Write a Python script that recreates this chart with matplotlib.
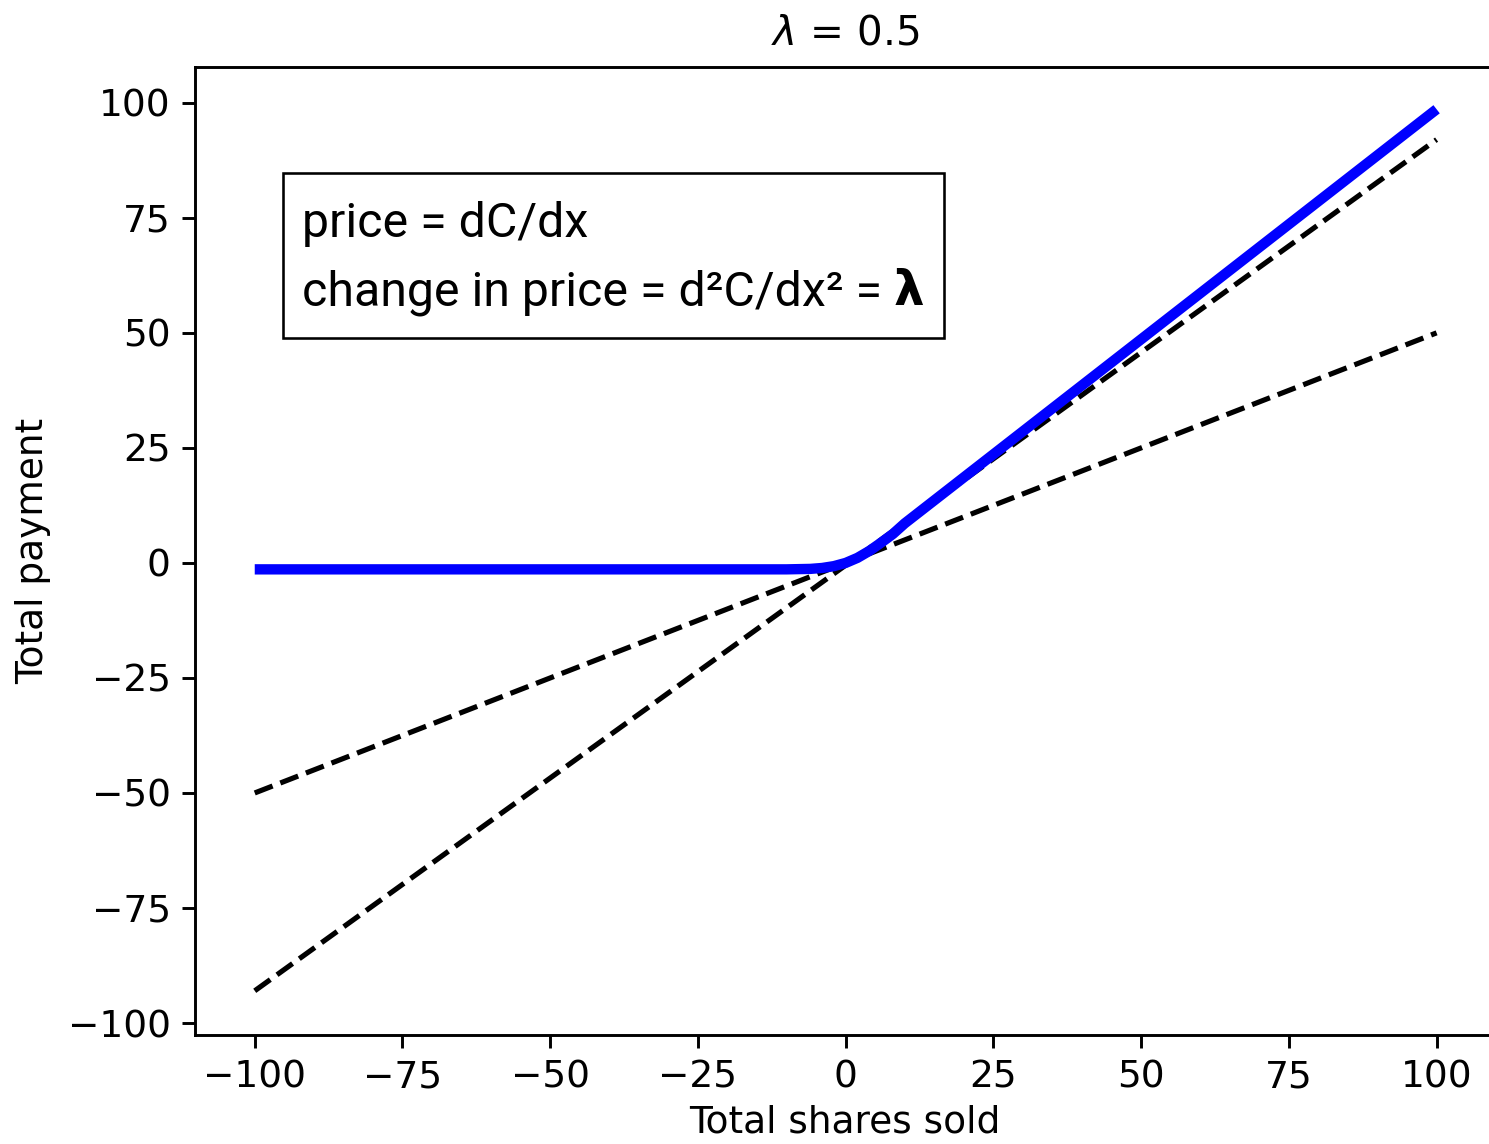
import matplotlib
matplotlib.use("Agg")
import matplotlib.pyplot as plt
from matplotlib.patches import Rectangle

# blue curve: total payment vs total shares sold
shares = [-100, -20, -10, -6, -4, -2, 0, 2, 4, 6, 8, 10, 15, 20, 30, 100]
payment = [-1.4, -1.4, -1.4, -1.3, -1.1, -0.7, 0.0, 1.1, 2.6, 4.4, 6.3, 8.6, 13.6, 18.6, 28.6, 98.6]

# dashed tangent lines (end points)
tan_x = [-100, 100]
tan_flat_y = [-50, 50]
tan_steep_y = [-93, 92]

ticks = [-100, -75, -50, -25, 0, 25, 50, 75, 100]
title = r"$\lambda$ = 0.5"
box_line1 = "price = dC/dx"
box_line2 = "change in price = d²C/dx² = "

DPI = 233
fig = plt.figure(figsize=(1489 / DPI, 1144 / DPI), dpi=DPI)
ax = fig.add_axes([0.131, 0.0953, 0.885, 0.8462])

ax.plot(tan_x, tan_flat_y, "k--", lw=1.6)
ax.plot(tan_x, tan_steep_y, "k--", lw=1.6)
ax.plot(shares, payment, color="b", lw=3.2, solid_capstyle="butt")

# right spine sits just past the picture edge, as in the cropped original
ax.set_xlim(-110.1, 112.9)
ax.set_ylim(-102.6, 107.8)
ax.set_xticks(ticks)
ax.set_yticks(ticks)
ax.tick_params(labelsize=11.6, length=4, width=0.9)
for s in ax.spines.values():
    s.set_linewidth(0.9)
ax.set_xlabel("Total shares sold", fontsize=11.6)
ax.xaxis.set_label_coords(0.493, -0.072)
ax.set_ylabel("Total payment", fontsize=11.6, labelpad=5)
ax.set_title(title, fontsize=12.5, pad=7, x=0.493)

# text box
fig.patches.append(Rectangle((283 / 1489, 1 - 338 / 1144), 661 / 1489, 165 / 1144,
                             transform=fig.transFigure, fill=False, edgecolor="black", lw=0.8))
fs = 14.9
fam = ["Roboto", "DejaVu Sans"]
fig.text(0.2028, 1 - 237 / 1144, box_line1, fontsize=fs, family=fam, va="baseline")
t2 = fig.text(0.2028, 1 - 305 / 1144, box_line2, fontsize=fs, family=fam, va="baseline")
fig.canvas.draw()
bb = t2.get_window_extent(renderer=fig.canvas.get_renderer())
x_end = bb.x1 / fig.bbox.width
fig.text(x_end, 1 - 305 / 1144, "λ", fontsize=fs, family=["DejaVu Sans"], weight="bold", va="baseline")

plt.savefig("out.png", dpi=DPI)
